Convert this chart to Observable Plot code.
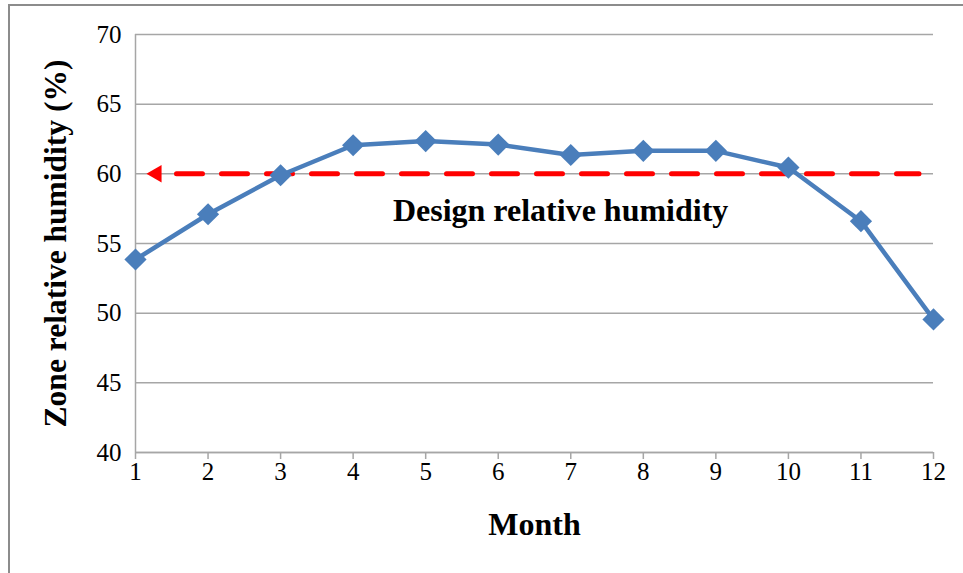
<!DOCTYPE html>
<html>
<head>
<meta charset="utf-8">
<script src="https://cdn.jsdelivr.net/npm/d3@7"></script>
<script src="https://cdn.jsdelivr.net/npm/@observablehq/plot@0.6"></script>
<style>
  html, body { margin: 0; padding: 0; background: #fff; }
  #wrap { position: relative; width: 963px; height: 573px; overflow: hidden; }
  #frame { position: absolute; left: 8px; top: 4px; width: 970px; height: 580px;
           border-top: 2px solid #8c8c8c; border-left: 2px solid #8c8c8c; pointer-events: none; }
  svg { display: block; }
  g[aria-label="x-axis tick label"], g[aria-label="y-axis tick label"],
  g[aria-label="x-axis tick label"] text, g[aria-label="y-axis tick label"] text { font-size: 25px !important; }
</style>
</head>
<body>
<div id="wrap"><div id="chart"></div><div id="frame"></div></div>
<script>
const months = [1, 2, 3, 4, 5, 6, 7, 8, 9, 10, 11, 12];
const humidity = [53.85, 57.1, 59.9, 62.05, 62.35, 62.1, 61.35, 61.65, 61.65, 60.45, 56.6, 49.55];
const yTicks = [40, 45, 50, 55, 60, 65, 70];
const designValue = 60;
const designArrowX = 1.29;
const designSpan = [1.565, 11.8];
const designLabel = "Design relative humidity";
const designLabelPos = {x: 6.86, y: 57.35};
const xLabel = "Month";
const yLabel = "Zone relative humidity (%)";

const data = months.map((m, i) => ({month: m, rh: humidity[i]}));
const designLine = designSpan.map(x => ({x, y: designValue}));

const chart = Plot.plot({
  width: 963,
  height: 573,
  marginLeft: 135,
  marginRight: 30,
  marginTop: 34,
  marginBottom: 121,
  style: {fontFamily: "'Liberation Serif', 'Times New Roman', serif", fontSize: "25px", color: "#000", background: "#fff"},
  x: {domain: [1, 12]},
  y: {domain: [40, 70]},
  marks: [
    Plot.gridY(yTicks, {stroke: "#a6a6a6", strokeOpacity: 1, strokeWidth: 1.5}),
    Plot.ruleX([1], {stroke: "#a6a6a6", strokeWidth: 1.5}),
    Plot.ruleY([40], {stroke: "#a6a6a6", strokeWidth: 1.5}),
    Plot.axisY(yTicks, {tickSize: 0, tickPadding: 14, label: null, fontSize: 25}),
    Plot.axisX(months, {tickSize: 7, tickPadding: 3, label: null, stroke: "#a6a6a6", strokeWidth: 1.5, fontSize: 25, tickFormat: d => String(d)}),
    Plot.line(designLine, {x: "x", y: "y", stroke: "#ff0000", strokeWidth: 5, strokeDasharray: "26,19"}),
    Plot.dot([{x: designArrowX, y: designValue}], {x: "x", y: "y", symbol: "triangle", r: 6.5, fill: "#ff0000", stroke: null, rotate: -90}),
    Plot.line(data, {x: "month", y: "rh", stroke: "#4a7ebb", strokeWidth: 4.5}),
    Plot.dot(data, {x: "month", y: "rh", symbol: "diamond2", r: 10, fill: "#4a7ebb", stroke: null}),
    Plot.text([designLabel], {x: designLabelPos.x, y: designLabelPos.y, fontWeight: "bold", fontSize: 32, textAnchor: "middle"}),
    Plot.text([xLabel], {frameAnchor: "bottom", dy: 82, fontWeight: "bold", fontSize: 32, textAnchor: "middle"}),
    Plot.text([yLabel], {frameAnchor: "left", dx: -80, rotate: -90, fontWeight: "bold", fontSize: 31.5, textAnchor: "middle"})
  ]
});
document.getElementById("chart").appendChild(chart);
</script>
</body>
</html>
